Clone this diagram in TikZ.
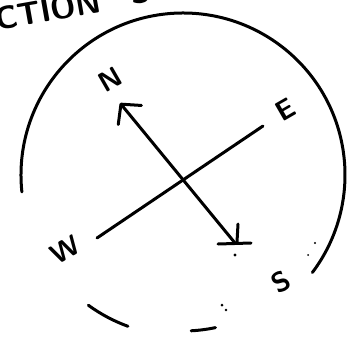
\documentclass[tikz,border=0pt]{standalone}
\usepackage{tikz}
\usetikzlibrary{arrows.meta}

\begin{document}
\begin{tikzpicture}[x=1pt, y=-1pt, line width=3pt, line cap=round,
    every node/.style={font=\sffamily\bfseries\fontsize{28}{28}\selectfont, inner sep=0pt},
    lbl/.style={rotate=30},
    hand/.style={font=\sffamily\bfseries\fontsize{32}{32}\selectfont, rotate=10}]
  \useasboundingbox (0,0) rectangle (361,337);
  \clip (0,0) rectangle (361,337);

  \coordinate (O) at (183,175);
  \draw ([shift={(174:162)}]O) arc[start angle=174, end angle=397, radius=162];
  \draw ([shift={(110:161)}]O) arc[start angle=110, end angle=126, radius=161];
  \draw ([shift={(78:156)}]O) arc[start angle=78, end angle=87, radius=156];

  \node[hand, anchor=south west] (dirtxt) at (-4,33) {CTION};
  \node[hand] (cuttxt) at (140,-8) {S};

  \coordinate (w) at (97,238);
  \coordinate (e) at (263,126);
  \coordinate (n) at (120,103);
  \coordinate (s) at (235,243);

  \draw (w) -- (e);
  \draw[-{Straight Barb[length=14pt, width=30pt, round]}] (s) -- (n);
  \draw ([shift={(-17,1)}]s) -- ++(33,-1);
  \draw ([shift={(3,-19)}]s) -- ++(-1,18);

  \node[lbl] (nlbl) at (110,80) {N};
  \node[lbl] (elbl) at (285,110) {E};
  \node[lbl] (wlbl) at (65,250) {W};
  \node[lbl] (slbl) at (281,282) {S};

  \fill (235,255) circle[radius=1.6];
  \fill (222,305) circle[radius=1.5];
  \fill (226,310) circle[radius=1.3];
  \fill (315,243) circle[radius=1.2];
  \fill (308,255) circle[radius=1];
\end{tikzpicture}
\end{document}
